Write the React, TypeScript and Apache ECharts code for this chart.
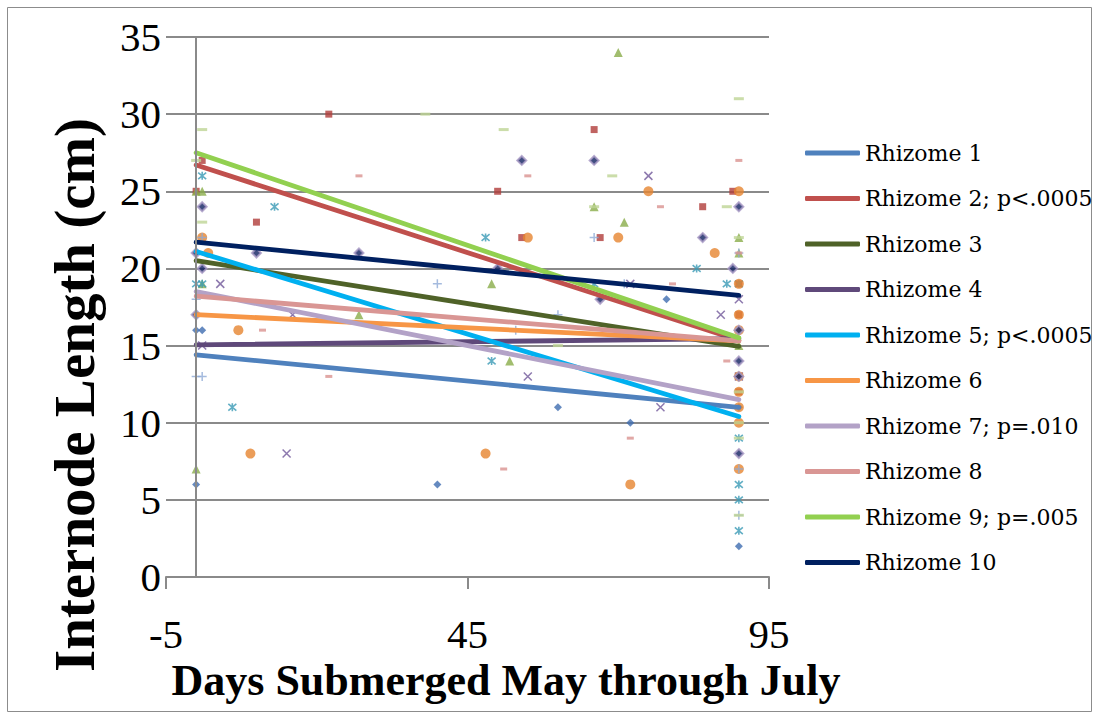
import React, { useEffect, useRef } from "react";
import * as echarts from "echarts";

// ---- Data ----
const rhizomeNames = [
  "Rhizome 1",
  "Rhizome 2; p<.0005",
  "Rhizome 3",
  "Rhizome 4",
  "Rhizome 5; p<.0005",
  "Rhizome 6",
  "Rhizome 7; p=.010",
  "Rhizome 8",
  "Rhizome 9; p=.005",
  "Rhizome 10",
];

const r1Points = [[0, 16], [1, 16], [0, 6], [40, 6], [60, 11], [72, 10], [78, 18], [90, 11], [90, 2]];
const r2Points = [[22, 30], [1, 27], [0, 25], [10, 23], [50, 25], [54, 22], [66, 29], [67, 22], [84, 24], [89, 25], [90, 19], [90, 17], [90, 12]];
const r3Points = [[0, 25], [1, 25], [1, 19], [0, 7], [27, 17], [49, 19], [52, 14], [66, 24], [70, 34], [71, 23], [90, 22], [90, 21], [90, 15]];
const r4Points = [[4, 19], [16, 17], [1, 15], [15, 8], [55, 13], [72, 19], [75, 26], [77, 11], [87, 17], [90, 18], [90, 13]];
const r5Points = [[1, 26], [13, 24], [0, 19], [1, 19], [6, 11], [48, 22], [49, 14], [66, 19], [83, 20], [88, 19], [90, 19], [90, 9], [90, 6], [90, 5], [90, 3]];
const r6Points = [[1, 22], [2, 21], [7, 16], [9, 8], [48, 8], [55, 22], [70, 22], [72, 6], [75, 25], [86, 21], [90, 25], [90, 19], [90, 17], [90, 16], [90, 13], [90, 12], [90, 11], [90, 10], [90, 7]];
const r7Points = [[1, 22], [0, 18], [0, 13], [1, 13], [40, 19], [53, 16], [60, 17], [66, 22], [71, 19], [90, 21], [90, 7], [90, 4]];
const r8Points = [[11, 16], [22, 13], [27, 26], [51, 7], [55, 26], [72, 9], [77, 24], [79, 19], [88, 14], [90, 27], [90, 21]];
const r9Points = [[1, 29], [0, 27], [1, 23], [38, 30], [51, 29], [60, 15], [66, 24], [69, 26], [88, 24], [90, 31], [90, 22], [90, 12], [90, 10], [90, 9], [90, 4]];
const r10Points = [[1, 24], [0, 21], [1, 20], [0, 17], [10, 21], [27, 21], [50, 20], [54, 27], [66, 27], [67, 18], [84, 22], [89, 20], [90, 24], [90, 16], [90, 14], [90, 13], [90, 8]];

const allPoints = [r1Points, r2Points, r3Points, r4Points, r5Points, r6Points, r7Points, r8Points, r9Points, r10Points];

// Linear trendlines: value at day 0 and at day 90
const trendX = [0, 90];
const trendStart = [14.4, 26.7, 20.5, 15.05, 21.1, 17.0, 18.5, 18.2, 27.5, 21.7];
const trendEnd = [11.0, 15.35, 14.95, 15.45, 10.4, 15.3, 11.5, 15.3, 15.5, 18.25];

const xTicks = [-5, 45, 95];

// ---- Styles ----
const trendColors = ["#4F81BD", "#C0504D", "#4F6228", "#5F497A", "#00B0F0", "#F79646", "#B3A2C7", "#D99694", "#92D050", "#002060"];

const X_PATH = "path://M0,0L10,10M10,0L0,10";
const STAR_PATH = "path://M0,0L10,10M10,0L0,10M5,-1L5,11";
const PLUS_PATH = "path://M5,0L5,10M0,5L10,5";

const markerStyles: any[] = [
  { symbol: "diamond", symbolSize: 8, itemStyle: { color: "#3E6DB0" } },
  { symbol: "rect", symbolSize: 7, itemStyle: { color: "#B03C3A" } },
  { symbol: "triangle", symbolSize: 9, itemStyle: { color: "#8AAC4A" } },
  { symbol: X_PATH, symbolSize: 8, itemStyle: { color: "none", borderColor: "#70579A", borderWidth: 1.5 } },
  { symbol: STAR_PATH, symbolSize: 8, itemStyle: { color: "none", borderColor: "#3A9AB5", borderWidth: 1.6 } },
  { symbol: "circle", symbolSize: 10, itemStyle: { color: "#E6852F" } },
  { symbol: PLUS_PATH, symbolSize: 9, itemStyle: { color: "none", borderColor: "#8EAAD6", borderWidth: 1.5 } },
  { symbol: "rect", symbolSize: [7, 3], itemStyle: { color: "#D99290" } },
  { symbol: "rect", symbolSize: [10, 3], itemStyle: { color: "#BED495" } },
  { symbol: "diamond", symbolSize: 9, itemStyle: { color: "#102060", borderColor: "#A898C4", borderWidth: 2 } },
];

export default function App() {
  const ref = useRef<HTMLDivElement>(null);

  useEffect(() => {
    if (!ref.current) return;
    const chart = echarts.init(ref.current, null, { renderer: "svg" });

    const scatterSeries = allPoints.map((pts, i) => ({
      name: rhizomeNames[i] + " data",
      type: "scatter",
      data: pts,
      z: 3,
      ...markerStyles[i],
    }));

    const trendSeries = rhizomeNames.map((name, i) => ({
      name,
      type: "line",
      color: trendColors[i],
      data: [
        [trendX[0], trendStart[i]],
        [trendX[1], trendEnd[i]],
      ],
      symbol: "none",
      z: 4 + i * 0.01,
      lineStyle: { width: 4.8, color: trendColors[i], cap: "round" },
    }));

    const axisSeries = {
      name: "axis",
      type: "scatter",
      data: [],
      z: 1,
      markLine: {
        silent: true,
        symbol: "none",
        label: { show: false },
        lineStyle: { color: "#8a8a8a", width: 2, type: "solid" },
        data: [{ xAxis: 0 }],
      },
    };

    chart.setOption({
      animation: false,
      backgroundColor: "#ffffff",
      grid: { left: 166, right: 330, top: 37, bottom: 142, containLabel: false },
      xAxis: {
        type: "value",
        min: -5,
        max: 95,
        splitLine: { show: false },
        axisLine: { show: true, onZero: false, lineStyle: { color: "#8a8a8a", width: 2 } },
        axisTick: { show: true, customValues: xTicks, length: 12, lineStyle: { color: "#8a8a8a", width: 2 } },
        axisLabel: {
          customValues: xTicks,
          margin: 57,
          verticalAlign: "middle",
          fontFamily: "Liberation Serif",
          fontSize: 41,
          color: "#000",
        },
      },
      yAxis: {
        type: "value",
        min: 0,
        max: 35,
        interval: 5,
        axisLine: { show: false, onZero: false },
        axisTick: { show: false },
        splitLine: { show: true, lineStyle: { color: "#8a8a8a", width: 2 } },
        axisLabel: {
          margin: 5,
          fontFamily: "Liberation Serif",
          fontSize: 41,
          color: "#000",
        },
      },
      legend: {
        show: true,
        orient: "vertical",
        left: 800,
        top: 136,
        data: rhizomeNames,
        icon: "roundRect",
        itemWidth: 55,
        itemHeight: 5,
        itemGap: 21.5,
        selectedMode: false,
        textStyle: { fontFamily: "DejaVu Serif", fontSize: 22, color: "#000", lineHeight: 24 },
      },
      graphic: [
        {
          type: "rect",
          shape: { x: 7.5, y: 7.5, width: 1084, height: 704 },
          style: { fill: "none", stroke: "#8c8c8c", lineWidth: 1 },
          silent: true,
          z: -10,
        },
        {
          type: "text",
          x: 506,
          y: 680,
          style: {
            text: "Days Submerged May through July",
            fontFamily: "Liberation Serif",
            fontWeight: "bold",
            fontSize: 44,
            fill: "#000",
            align: "center",
            verticalAlign: "middle",
          },
        },
        {
          type: "text",
          x: 74,
          y: 395,
          rotation: Math.PI / 2,
          style: {
            text: "Internode Length (cm)",
            fontFamily: "Liberation Serif",
            fontWeight: "bold",
            fontSize: 57,
            fill: "#000",
            align: "center",
            verticalAlign: "middle",
          },
        },
      ],
      series: [axisSeries, ...scatterSeries, ...trendSeries],
    });

    return () => chart.dispose();
  }, []);

  return (
    <div
      ref={ref}
      style={{ position: "fixed", left: 0, top: 0, width: 1099, height: 719 }}
    />
  );
}
